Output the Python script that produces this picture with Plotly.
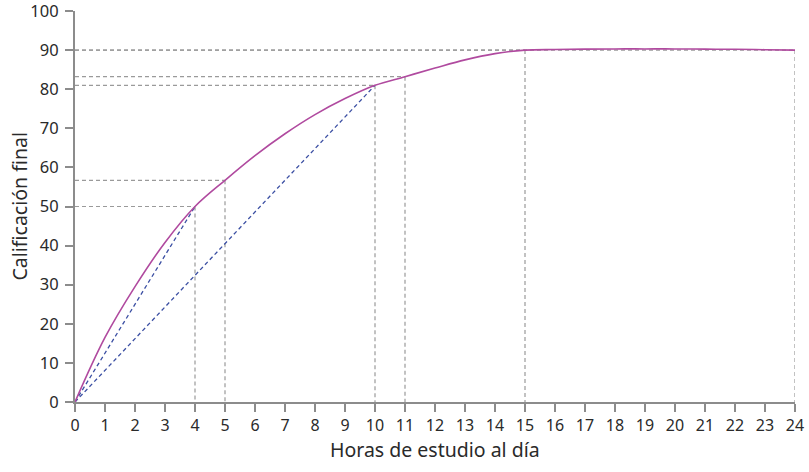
import plotly.graph_objects as go

# curve
hours = [0, 1, 2, 3, 4, 5, 6, 7, 8, 9, 10, 11, 12, 13, 14, 15,
         16, 17, 18, 19, 20, 21, 22, 23, 24]
grade = [0, 16.5, 29.5, 40.8, 50, 56.7, 63, 68.6, 73.5, 77.6, 81, 83.2, 85.4, 87.5, 89.1, 90,
         90.15, 90.25, 90.3, 90.3, 90.3, 90.25, 90.2, 90.1, 90]

# points marked with grey guide lines
mark_x = [4, 5, 10, 11, 15, 24]
mark_y = [50, 56.7, 81, 83.2, 90, 90]

# chords from the origin
chord_x = [4, 10]
chord_y = [50, 81]

grey = "#9a9a9a"
axis_grey = "#8c8c8c"

gx, gy = [], []
for x, y in zip(mark_x, mark_y):
    gx += [0, x, None, x, x, None]
    gy += [y, y, None, y, 0, None]

cx, cy = [], []
for x, y in zip(chord_x, chord_y):
    cx += [0, x, None]
    cy += [0, y, None]

fig = go.Figure()
fig.add_trace(go.Scatter(x=gx, y=gy, mode="lines",
                         line=dict(color=grey, width=1.2, dash="4px,3px"),
                         hoverinfo="skip"))
fig.add_trace(go.Scatter(x=cx, y=cy, mode="lines",
                         line=dict(color="#3b4fa3", width=1.3, dash="4px,3px"),
                         hoverinfo="skip"))
fig.add_trace(go.Scatter(x=hours, y=grade, mode="lines",
                         line=dict(color="#b04a9f", width=1.6, shape="spline", smoothing=1.0)))

fig.update_layout(
    width=809, height=472,
    margin=dict(l=75, r=14, t=11, b=70),
    paper_bgcolor="white", plot_bgcolor="white",
    showlegend=False,
    font=dict(family="Noto Sans", size=16, color="#2a2a2a"),
)
fig.update_xaxes(
    range=[0, 24], tickmode="linear", tick0=0, dtick=1,
    showgrid=False, zeroline=False, automargin=False,
    showline=True, linecolor=axis_grey, linewidth=2,
    ticks="outside", ticklen=8, tickcolor=axis_grey, tickwidth=1.5,
    tickfont=dict(size=16), ticklabeloverflow="allow",
)
fig.update_yaxes(
    range=[0, 100], tickmode="linear", tick0=0, dtick=10,
    showgrid=False, zeroline=False, automargin=False,
    showline=True, linecolor=axis_grey, linewidth=2,
    ticks="outside", ticklen=8, tickcolor=axis_grey, tickwidth=1.5,
    tickfont=dict(size=16.5), ticklabeloverflow="allow", ticklabelstandoff=3,
)

# axis titles placed as annotations
fig.add_annotation(text="Horas de estudio al día", xref="paper", yref="paper",
                   x=0.5, y=0, yshift=-47, yanchor="middle", showarrow=False,
                   font=dict(size=19.5))
fig.add_annotation(text="Calificación final", xref="paper", yref="paper",
                   x=0, xshift=-56, xanchor="center", y=0.5, textangle=-90,
                   showarrow=False, font=dict(size=19.5))

# page has a default 8px body margin; drop it so the figure fills the window
fig.write_html("out.html", config={"displayModeBar": False},
               post_script="document.body.style.margin='0';")
